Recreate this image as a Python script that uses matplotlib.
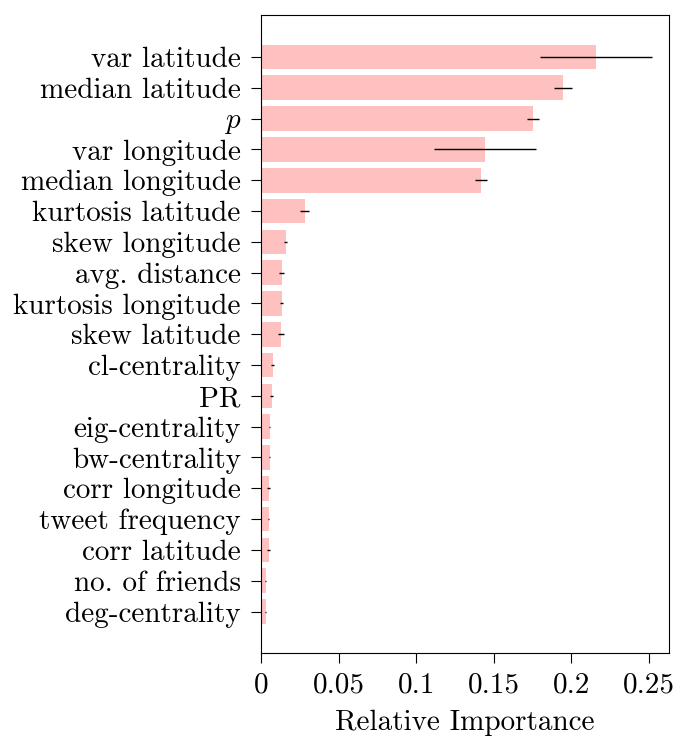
import matplotlib
matplotlib.use("Agg")
from matplotlib import pyplot as plt
from matplotlib.ticker import FuncFormatter

features = [
    "var latitude", "median latitude", "$p$", "var longitude", "median longitude",
    "kurtosis latitude", "skew longitude", "avg. distance", "kurtosis longitude",
    "skew latitude", "cl-centrality", "PR", "eig-centrality", "bw-centrality",
    "corr longitude", "tweet frequency", "corr latitude", "no. of friends",
    "deg-centrality",
]
importance = [
    0.216, 0.1947, 0.1753, 0.1443, 0.1417,
    0.0282, 0.0159, 0.0134, 0.0134,
    0.0127, 0.0075, 0.0069, 0.0056, 0.0056,
    0.0050, 0.0050, 0.0050, 0.0030,
    0.0030,
]
errors = [
    0.036, 0.0057, 0.004, 0.0328, 0.0037,
    0.003, 0.0012, 0.0015, 0.001,
    0.002, 0.0012, 0.001, 0.0005, 0.0005,
    0.001, 0.0005, 0.0008, 0.0004,
    0.0004,
]

plt.rcParams["font.family"] = ["cmr10", "DejaVu Serif"]
plt.rcParams["mathtext.fontset"] = "cm"
plt.rcParams["axes.formatter.use_mathtext"] = True
plt.rcParams["font.size"] = 21

fig = plt.figure(figsize=(6.76, 7.38), dpi=100)
ax = fig.add_axes([0.386, 0.115, 0.604, 0.865])

pos = list(range(len(features)))[::-1]
ax.barh(pos, importance, height=0.8, color="#ffc0c0",
        xerr=errors, error_kw=dict(ecolor="black", elinewidth=1.0, capsize=0))

ax.set_yticks(pos)
ax.set_yticklabels(features)
ax.set_ylim(-1.35, len(features) - 1 + 1.37)
ax.set_xlim(0, 0.263)
ax.set_xticks([0, 0.05, 0.1, 0.15, 0.2, 0.25])
ax.xaxis.set_major_formatter(FuncFormatter(lambda v, _: "{:g}".format(v)))
ax.set_xlabel("Relative Importance", labelpad=8)
ax.tick_params(direction="out", length=7.5, width=0.8)
ax.tick_params(axis="y", pad=7)
ax.tick_params(axis="x", pad=6)

fig.savefig("out.png", dpi=100)
